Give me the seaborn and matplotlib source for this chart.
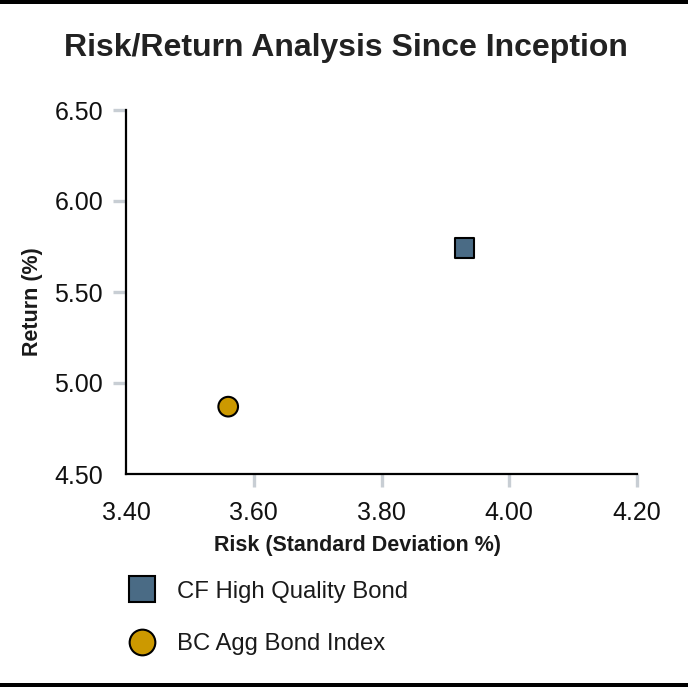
import matplotlib
matplotlib.use("Agg")
import matplotlib.pyplot as plt
from matplotlib.lines import Line2D
from matplotlib.patches import Rectangle
import seaborn as sns
import pandas as pd

# Portfolio statistics since inception
names = ["CF High Quality Bond", "BC Agg Bond Index"]
risk = [3.93, 3.56]          # standard deviation, %
returns = [5.74, 4.87]       # annualised return, %
colors = ["#4a6b85", "#cc9900"]
markers = ["s", "o"]

x_ticks = [3.40, 3.60, 3.80, 4.00, 4.20]
y_ticks = [4.50, 5.00, 5.50, 6.00, 6.50]

df = pd.DataFrame({"name": names, "risk": risk, "ret": returns})

sns.set_theme(style="white")
plt.rcParams["font.family"] = ["Liberation Sans", "DejaVu Sans"]
plt.rcParams["text.color"] = "#1a1a1a"
plt.rcParams["axes.labelcolor"] = "#1a1a1a"

fig = plt.figure(figsize=(6.88, 6.87), dpi=100)
ax = fig.add_axes([126 / 688, 1 - 474 / 687, 511 / 688, 364 / 687])

sns.scatterplot(
    data=df, x="risk", y="ret", hue="name", style="name",
    palette=dict(zip(names, colors)), markers=dict(zip(names, markers)),
    s=200, edgecolor="black", linewidth=1.5, legend=False, ax=ax, zorder=3,
)

ax.set_xlim(x_ticks[0], x_ticks[-1])
ax.set_ylim(y_ticks[0], y_ticks[-1])
ax.set_xticks(x_ticks)
ax.set_yticks(y_ticks)
ax.set_xticklabels([f"{v:.2f}" for v in x_ticks])
ax.set_yticklabels([f"{v:.2f}" for v in y_ticks])

ax.tick_params(axis="both", which="major", direction="out", length=9.5,
               width=2.4, color="#c8ced4", labelsize=18, labelcolor="#111111",
               left=True, bottom=True)
ax.tick_params(axis="x", pad=10)
ax.tick_params(axis="y", pad=7)
# hide the tick marks at the origin corner
ax.xaxis.get_major_ticks()[0].tick1line.set_visible(False)
ax.yaxis.get_major_ticks()[0].tick1line.set_visible(False)

for side in ["top", "right"]:
    ax.spines[side].set_visible(False)
for side in ["left", "bottom"]:
    ax.spines[side].set_color("black")
    ax.spines[side].set_linewidth(1.6)

ax.set_xlabel("Risk (Standard Deviation %)", fontsize=15.5, fontweight="bold")
ax.set_ylabel("Return (%)", fontsize=15.5, fontweight="bold")
ax.xaxis.set_label_coords((357.5 - 126) / 511, (474 - 535) / 364)
ax.yaxis.set_label_coords((43 - 126) / 511, (474 - 302) / 364)

fig.suptitle("Risk/Return Analysis Since Inception", fontsize=23,
             fontweight="bold", y=1 - 48 / 687, va="center", x=0.503,
             color="#222222")

handles = [
    Line2D([], [], linestyle="none", marker=m, markersize=18.5,
           markerfacecolor=c, markeredgecolor="black", markeredgewidth=1.5,
           label=n)
    for n, c, m in zip(names, colors, markers)
]
fig.legend(handles=handles, loc="upper left",
           bbox_to_anchor=(118 / 688, 1 - 571 / 687), frameon=False,
           fontsize=17.2, handletextpad=0.85, labelspacing=1.28,
           handlelength=1.2, borderaxespad=0)

# black rules along the top and bottom edges
fig.add_artist(Rectangle((0, 1 - 4 / 687), 1, 4 / 687, transform=fig.transFigure,
                         facecolor="black", edgecolor="none"))
fig.add_artist(Rectangle((0, 0), 1, 4 / 687, transform=fig.transFigure,
                         facecolor="black", edgecolor="none"))

fig.savefig("out.png", dpi=100)
